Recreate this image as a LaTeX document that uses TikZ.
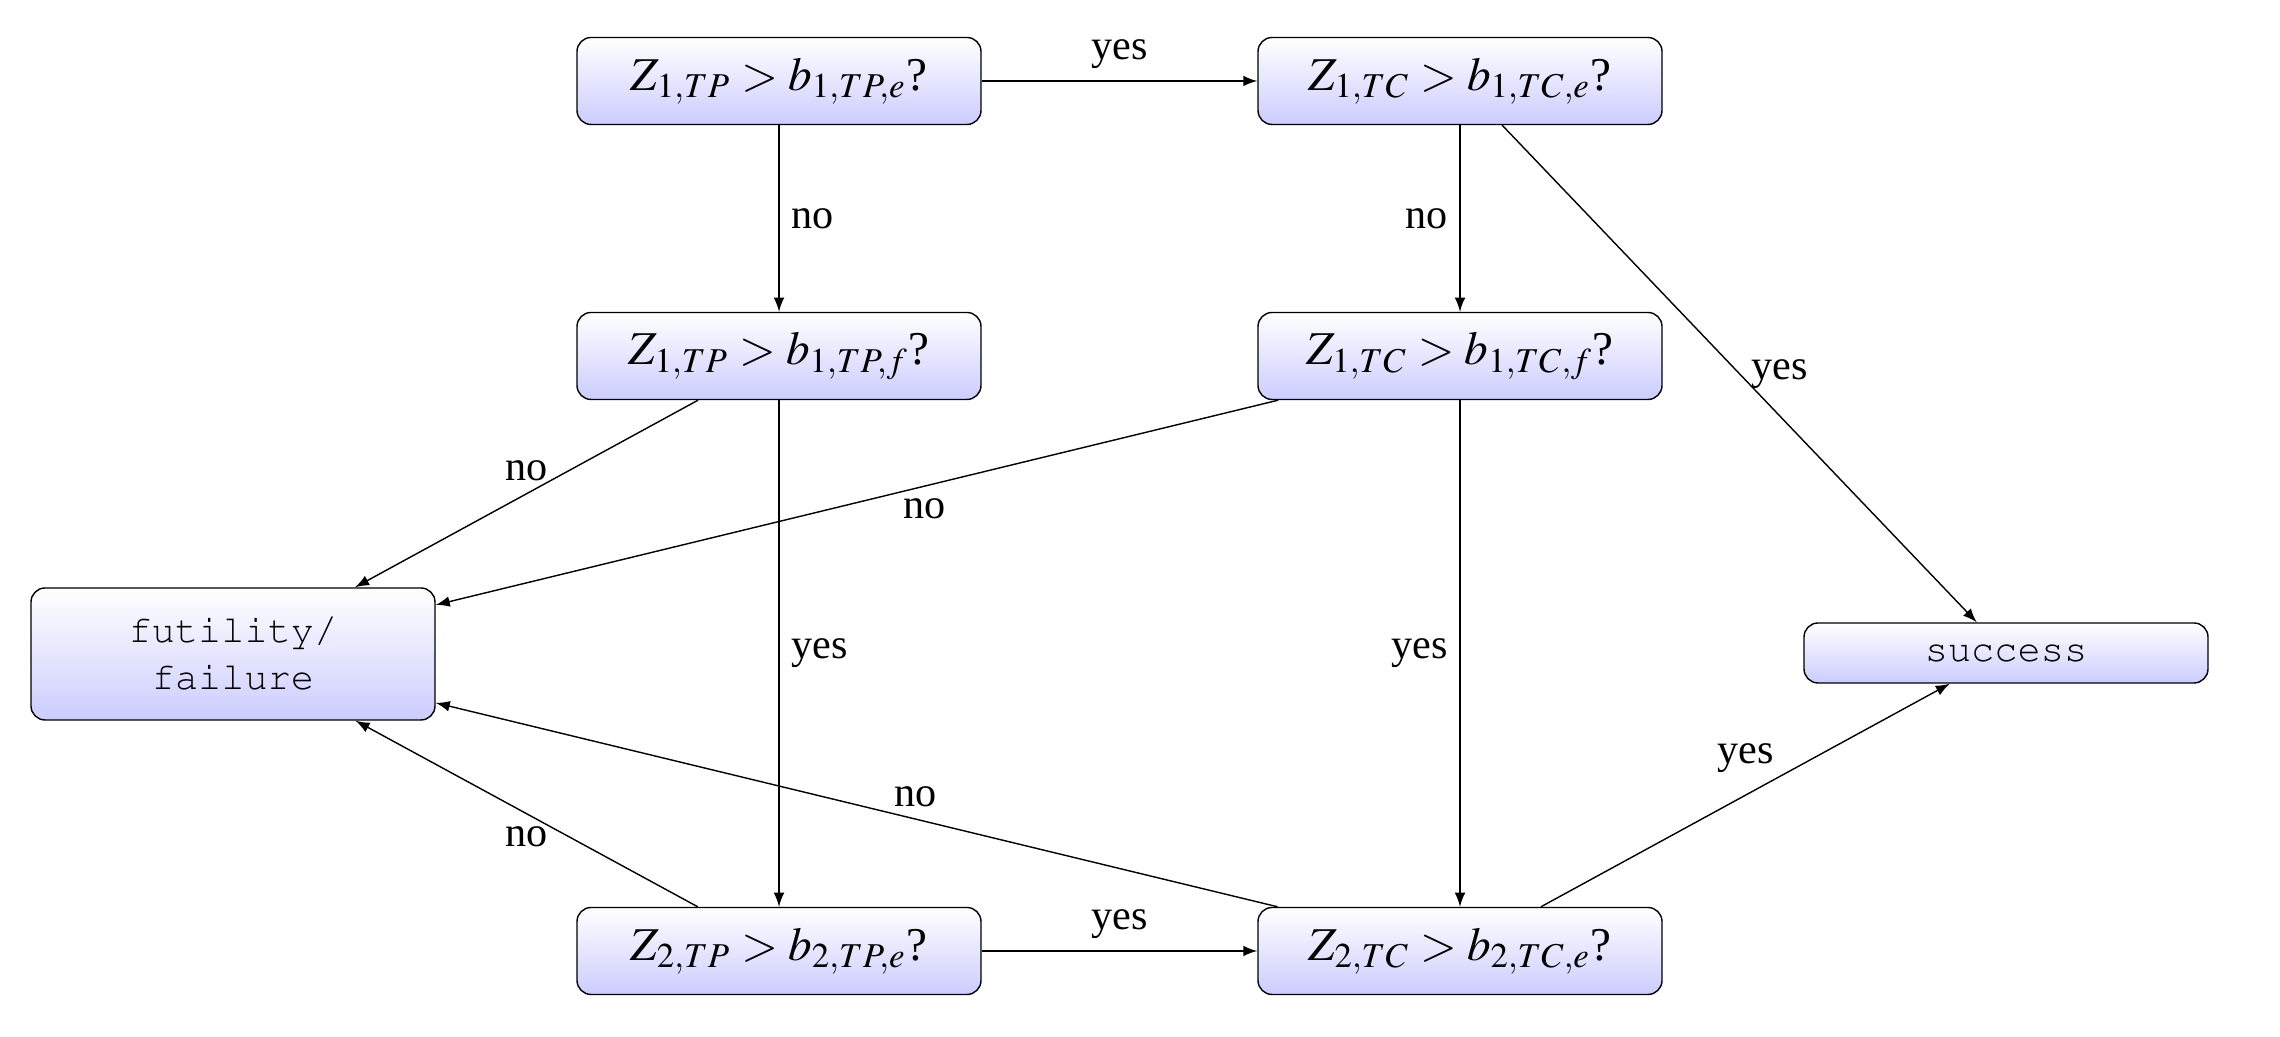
\documentclass[tikz,border=0pt]{standalone}
\usepackage{mathptmx}
\usepackage[T1]{fontenc}
\usepackage{fontspec}
\setmainfont{Liberation Serif}
\newcommand\courier{\fontencoding{T1}\fontfamily{pcr}\selectfont}

\begin{document}
\begin{tikzpicture}[font=\fontsize{12}{14}\selectfont,
  box/.style={draw, rounded corners=4pt, top color=white, bottom color=blue!20,
    minimum width=4.04cm, minimum height=0.87cm, inner sep=4pt, align=center},
  test/.style={box, font=\fontsize{13.4}{16}\selectfont},
  edge/.style={-latex}]
\useasboundingbox (0,0) rectangle (22.8,10.37);
\def\xtp{7.79}
\def\xtc{14.60}

% decision boxes
\node[test] (tp1e) at (\xtp,9.56) {$Z_{1,TP} > b_{1,TP,e}$?};
\node[test] (tc1e) at (\xtc,9.56) {$Z_{1,TC} > b_{1,TC,e}$?};
\node[test] (tp1f) at (\xtp,6.81) {$Z_{1,TP} > b_{1,TP,f}$?};
\node[test] (tc1f) at (\xtc,6.81) {$Z_{1,TC} > b_{1,TC,f}$?};
\node[test] (tp2e) at (\xtp,0.86) {$Z_{2,TP} > b_{2,TP,e}$?};
\node[test] (tc2e) at (\xtc,0.86) {$Z_{2,TC} > b_{2,TC,e}$?};

% outcomes
\node[box, minimum height=1.32cm, font=\fontsize{11}{13.3}\selectfont\courier] (fail) at (2.33,3.83) {futility/\\failure};
\node[box, minimum height=0.6cm, font=\fontsize{11}{13.3}\selectfont\courier] (succ) at (20.06,3.84) {success};

\draw[edge] (tp1e) -- node[above] {yes} (tc1e);
\draw[edge] (tp1e) -- node[right] {no} (tp1f);
\draw[edge] (tc1e) -- node[left] {no} (tc1f);
\draw[edge] (tc1e) -- node[right] {yes} (succ);
\draw[edge] (tp1f) -- node[above] {no} (fail);
\draw[edge] (tc1f) -- node[pos=0.42, below] {no} (fail);
\draw[edge] (tp1f) -- node[right] {yes} (tp2e);
\draw[edge] (tc1f) -- node[left] {yes} (tc2e);
\draw[edge] (tp2e) -- node[below] {no} (fail);
\draw[edge] (tc2e) -- node[pos=0.43, above] {no} (fail);
\draw[edge] (tp2e) -- node[above] {yes} (tc2e);
\draw[edge] (tc2e) -- node[above=3pt] {yes} (succ);
\end{tikzpicture}
\end{document}
